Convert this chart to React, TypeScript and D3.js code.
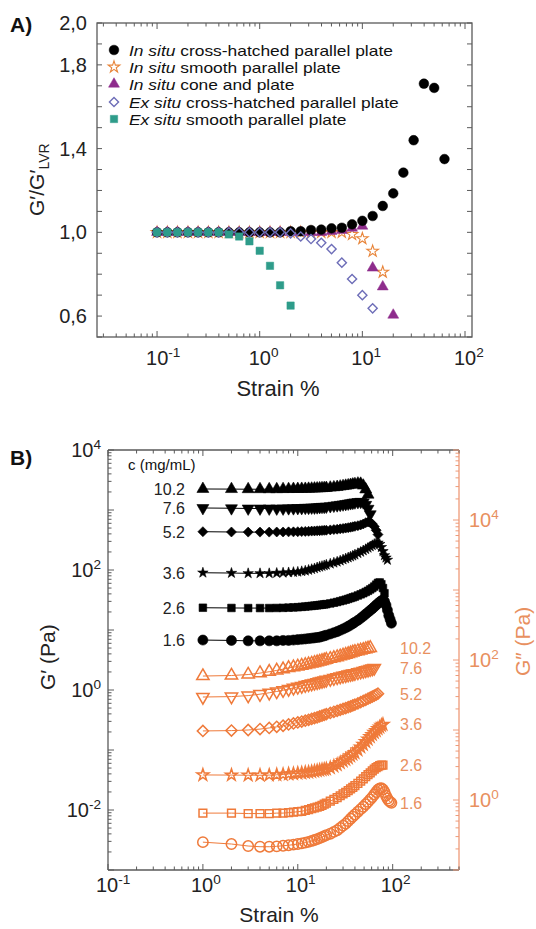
import React from 'react';
import * as d3 from 'd3';

const FONT = '"Liberation Sans", Arial, Helvetica, sans-serif';

// ---------------- Panel A data ----------------
const strainA = [0.1, 0.126, 0.158, 0.2, 0.251, 0.316, 0.398, 0.501, 0.631, 0.794, 1, 1.26, 1.58, 2, 2.51, 3.16, 3.98, 5.01, 6.31, 7.94, 10, 12.6, 15.8, 20, 25.1, 31.6, 39.8, 50.1, 63.1];
const inSituCrossHatched = [1.0, 1.0, 1.0, 1.0, 1.0, 1.0, 1.0, 1.0, 1.0, 1.0, 1.0, 1.0, 1.0, 1.005, 1.005, 1.011, 1.013, 1.019, 1.022, 1.038, 1.055, 1.078, 1.126, 1.186, 1.285, 1.44, 1.71, 1.69, 1.35];
const inSituSmooth = [1.0, 1.0, 1.0, 1.0, 1.0, 1.0, 1.0, 1.0, 1.0, 1.0, 1.0, 1.0, 1.0, 1.0, 1.0, 1.0, 1.0, 1.0, 1.0, 0.99, 0.97, 0.91, 0.81];
const inSituCone = [1.0, 1.0, 1.0, 1.0, 1.0, 1.0, 1.0, 1.0, 1.0, 1.0, 1.0, 1.0, 1.0, 1.0, 1.0, 1.0, 1.0, 1.005, 1.01, 1.02, 1.03, 0.83, 0.74, 0.605];
const exSituCrossHatched = [1.0, 1.0, 1.0, 1.0, 1.0, 1.0, 1.0, 1.0, 1.0, 1.0, 1.0, 1.0, 1.0, 0.995, 0.98, 0.968, 0.95, 0.92, 0.855, 0.777, 0.7, 0.637];
const exSituSmooth = [1.0, 1.0, 1.0, 1.0, 1.0, 1.0, 1.0, 0.99, 0.98, 0.957, 0.912, 0.84, 0.747, 0.65];
const yTickLabelsA = [0.6, 1.0, 1.4, 1.8, 2.0];
const xTickLabels = [0.1, 1, 10, 100];

// ---------------- Panel B data ----------------
const strainB = [1, 2, 3, 4, 5, 6, 7, 8, 9, 10, 11, 12, 13, 14, 15, 16, 17, 18, 19, 20, 22, 24, 26, 28, 30, 32, 34, 36, 38, 40, 43, 46, 49, 52, 55, 58, 61, 64, 67, 70, 73, 76, 79, 82, 85, 88, 91, 94, 97];
const concentrations = ['10.2', '7.6', '5.2', '3.6', '2.6', '1.6'];
// G' (Pa), filled black markers
const gp10_2 = [2240, 2230, 2220, 2220, 2220, 2220, 2230, 2230, 2240, 2240, 2250, 2250, 2260, 2270, 2280, 2290, 2300, 2310, 2320, 2330, 2360, 2390, 2420, 2460, 2500, 2540, 2580, 2620, 2660, 2700, 2760, 2740, 2550, 2200, 1800];
const gp7_6 = [1080, 1070, 1060, 1060, 1060, 1060, 1060, 1070, 1070, 1080, 1080, 1090, 1090, 1100, 1100, 1110, 1120, 1130, 1130, 1140, 1160, 1180, 1200, 1220, 1240, 1260, 1280, 1300, 1320, 1340, 1360, 1370, 1340, 1220, 1050, 850];
const gp5_2 = [435, 430, 428, 428, 428, 430, 430, 432, 432, 435, 437, 440, 442, 445, 447, 450, 452, 455, 458, 460, 466, 472, 478, 485, 492, 500, 508, 516, 525, 534, 548, 565, 585, 615, 632, 620, 585, 530, 460, 390];
const gp3_6 = [90, 89, 88, 88, 88, 89, 90, 91, 92, 93, 95, 97, 100, 103, 106, 110, 113, 116, 119, 122, 127, 132, 137, 143, 149, 155, 161, 167, 173, 180, 190, 200, 211, 222, 234, 246, 258, 270, 280, 284, 270, 240, 205, 175, 160, 147];
const gp2_6 = [23.5, 23.3, 23.2, 23.2, 23.2, 23.3, 23.4, 23.6, 23.8, 24, 24.3, 24.6, 24.9, 25.2, 25.5, 25.8, 26.1, 26.4, 26.7, 27, 27.7, 28.5, 29.3, 30.2, 31.1, 32, 33, 34, 35, 36, 37.6, 39.3, 41, 43, 45, 47.5, 50, 53, 57, 61, 62, 58, 50, 41];
const gp1_6 = [6.8, 6.7, 6.6, 6.6, 6.6, 6.6, 6.7, 6.7, 6.8, 6.9, 7.0, 7.1, 7.2, 7.3, 7.4, 7.5, 7.6, 7.8, 8.0, 8.2, 8.6, 9.0, 9.4, 9.9, 10.4, 10.9, 11.5, 12.1, 12.8, 13.5, 14.5, 15.7, 17, 18.4, 19.8, 21.2, 22.7, 24.3, 26, 27.7, 29.3, 30.8, 31.6, 30, 26, 21.5, 17.5, 15, 13];
// G'' (Pa), open orange markers
const gpp10_2 = [59, 60, 62, 65, 68, 71, 74, 77, 79, 81, 83, 85, 87, 89, 91, 93, 95, 97, 99, 101, 104, 107, 110, 113, 116, 119, 122, 125, 128, 131, 134, 137, 140, 143, 146, 149];
const gpp7_6 = [29.6, 30, 31, 32.5, 34, 35.5, 37, 38.5, 40, 41.3, 42.5, 43.7, 44.8, 45.9, 47, 48, 49, 50, 51, 52, 53.5, 55, 56.5, 58, 59.3, 60.5, 61.7, 62.8, 63.8, 64.8, 66.5, 68, 69.5, 71, 72.5, 74, 75.5, 77];
const gpp5_2 = [9.7, 9.8, 10, 10.3, 10.7, 11.1, 11.5, 12, 12.4, 12.8, 13.2, 13.6, 14, 14.4, 14.8, 15.2, 15.6, 16, 16.4, 16.8, 17.5, 18.2, 18.8, 19.4, 20, 20.6, 21.2, 21.8, 22.4, 23, 24, 25, 26, 27, 28, 29, 30, 31, 32, 33];
const gpp3_6 = [2.28, 2.27, 2.26, 2.26, 2.27, 2.29, 2.32, 2.35, 2.38, 2.41, 2.44, 2.47, 2.5, 2.54, 2.58, 2.62, 2.66, 2.7, 2.74, 2.78, 2.9, 3.05, 3.2, 3.4, 3.6, 3.8, 4.0, 4.25, 4.5, 4.75, 5.2, 5.7, 6.2, 6.8, 7.4, 8.0, 8.6, 9.2, 9.8, 10.4, 11, 11.6, 12];
const gpp2_6 = [0.65, 0.65, 0.64, 0.64, 0.64, 0.65, 0.65, 0.66, 0.67, 0.68, 0.69, 0.71, 0.73, 0.75, 0.77, 0.79, 0.81, 0.84, 0.87, 0.9, 0.96, 1.02, 1.08, 1.15, 1.22, 1.29, 1.36, 1.44, 1.52, 1.6, 1.73, 1.86, 2.0, 2.15, 2.3, 2.45, 2.6, 2.75, 2.9, 3.0, 3.1, 3.15, 3.15];
const gpp1_6 = [0.25, 0.235, 0.22, 0.215, 0.215, 0.218, 0.222, 0.226, 0.23, 0.235, 0.24, 0.246, 0.252, 0.26, 0.268, 0.276, 0.285, 0.295, 0.305, 0.315, 0.33, 0.35, 0.37, 0.4, 0.43, 0.46, 0.5, 0.54, 0.58, 0.62, 0.68, 0.74, 0.8, 0.87, 0.94, 1.02, 1.1, 1.2, 1.3, 1.4, 1.46, 1.48, 1.42, 1.3, 1.15, 1.05, 0.98, 0.94, 0.91];
const yTickLabelsBLeft = [1e4, 1e2, 1, 1e-2];
const yTickLabelsBRight = [1e4, 1e2, 1];

// ---------------- styling ----------------
const ORANGE = '#EF7A3A';
const ORANGE_TXT = '#E8905F';
const ORANGE_AX = '#EE9A78';
const AXIS = '#5a5a5a';
const C_BLACK = '#000';
const C_STAR = '#E8853A';
const C_TRI = '#8E2C8C';
const C_DIA = '#6E6EB8';
const C_SQ = '#2E9C8A';

type Shape = 'circle' | 'triUp' | 'triDown' | 'diamond' | 'star' | 'square';

function symPath(shape: Shape, size: number): string {
  const g = d3.symbol();
  switch (shape) {
    case 'circle': return g.type(d3.symbolCircle).size(size)() as string;
    case 'triUp':
    case 'triDown': return g.type(d3.symbolTriangle).size(size)() as string;
    case 'diamond': return g.type(d3.symbolSquare).size(size)() as string;
    case 'star': return g.type(d3.symbolStar).size(size)() as string;
    case 'square': return g.type(d3.symbolSquare).size(size)() as string;
  }
}
function symRot(shape: Shape): number {
  if (shape === 'triDown') return 180;
  if (shape === 'diamond') return 45;
  return 0;
}

function logTicks(lo: number, hi: number) {
  const out: { v: number; major: boolean }[] = [];
  for (let e = Math.floor(Math.log10(lo)) - 1; e <= Math.ceil(Math.log10(hi)); e++) {
    for (let m = 1; m <= 9; m++) {
      const v = m * Math.pow(10, e);
      if (v >= lo * 0.999 && v <= hi * 1.001) out.push({ v, major: m === 1 });
    }
  }
  return out;
}

const Pow = ({ x, y, exp, anchor = 'start', fill = '#222', size = 19 }: any) => (
  <text x={x} y={y} textAnchor={anchor} fontSize={size} fill={fill} fontFamily={FONT}>
    <tspan>10</tspan>
    <tspan dy={-size * 0.42} fontSize={size * 0.68}>{exp}</tspan>
  </text>
);

function PanelA() {
  const L = 97, R = 472, T = 23, B = 337;
  const x = d3.scaleLog().domain([0.026, 117]).range([L, R]);
  const y = d3.scaleLinear().domain([0.5, 2.0]).range([B, T]);
  const xt = logTicks(0.026, 117);
  const yt = d3.range(5, 21).map((d) => d / 10);

  const sty = {
    circle: { shape: 'circle' as Shape, fill: C_BLACK, stroke: C_BLACK, size: 74, sw: 0.5 },
    star: { shape: 'star' as Shape, fill: '#fff', stroke: C_STAR, size: 42, sw: 1.1 },
    tri: { shape: 'triUp' as Shape, fill: C_TRI, stroke: C_TRI, size: 52, sw: 0.5 },
    dia: { shape: 'diamond' as Shape, fill: 'none', stroke: C_DIA, size: 42, sw: 1.4 },
    sq: { shape: 'square' as Shape, fill: C_SQ, stroke: C_SQ, size: 54, sw: 0.5 },
  };
  // drawing order (bottom to top)
  const series = [
    { vals: inSituSmooth, ...sty.star },
    { vals: inSituCone, ...sty.tri },
    { vals: inSituCrossHatched, ...sty.circle },
    { vals: exSituCrossHatched, ...sty.dia },
    { vals: exSituSmooth, ...sty.sq },
  ];
  const legend = [
    { ...sty.circle, it: 'In situ', rest: ' cross-hatched parallel plate' },
    { ...sty.star, it: 'In situ', rest: ' smooth parallel plate' },
    { ...sty.tri, it: 'In situ', rest: ' cone and plate' },
    { ...sty.dia, it: 'Ex situ', rest: ' cross-hatched parallel plate' },
    { ...sty.sq, it: 'Ex situ', rest: ' smooth parallel plate' },
  ];
  const legendY = [50, 67, 84, 102, 119];

  return (
    <g>
      <text x={10} y={32} fontSize={21} fontWeight="bold" fontFamily={FONT} fill="#111">A)</text>
      <rect x={L} y={T} width={R - L} height={B - T} fill="none" stroke={AXIS} strokeWidth={1.3} />
      {xt.map((t, i) => (
        <g key={'xt' + i} stroke={AXIS} strokeWidth={1}>
          <line x1={x(t.v)} x2={x(t.v)} y1={B} y2={B - (t.major ? 6 : 3.5)} />
          <line x1={x(t.v)} x2={x(t.v)} y1={T} y2={T + (t.major ? 6 : 3.5)} />
        </g>
      ))}
      {yt.map((v, i) => (
        <g key={'yt' + i} stroke={AXIS} strokeWidth={1}>
          <line x1={L} x2={L + 5} y1={y(v)} y2={y(v)} />
          <line x1={R} x2={R - 5} y1={y(v)} y2={y(v)} />
        </g>
      ))}
      {yTickLabelsA.map((v) => (
        <text key={'yl' + v} x={87} y={y(v) + 7} textAnchor="end" fontSize={20} fontFamily={FONT} fill="#222">
          {v.toFixed(1).replace('.', ',')}
        </text>
      ))}
      {xTickLabels.map((v) => (
        <Pow key={'xl' + v} x={x(v) - 11} y={365} exp={String(Math.round(Math.log10(v)))} size={20} />
      ))}
      <text x={278} y={396} textAnchor="middle" fontSize={22} fontFamily={FONT} fill="#222">Strain %</text>
      <text transform={`translate(44,216) rotate(-90)`} fontSize={21} fontFamily={FONT} fill="#222">
        <tspan>G′/G′</tspan>
        <tspan dy={5} fontSize={14}>LVR</tspan>
      </text>
      {series.map((s, si) => (
        <g key={'s' + si}>
          {s.vals.map((v, i) => (
            <path key={i} d={symPath(s.shape, s.size)}
              transform={`translate(${x(strainA[i])},${y(v)}) rotate(${symRot(s.shape)})`}
              fill={s.fill} stroke={s.stroke} strokeWidth={s.sw} />
          ))}
        </g>
      ))}
      {legend.map((l, i) => (
        <g key={'lg' + i}>
          <path d={symPath(l.shape, l.size)} transform={`translate(114,${legendY[i]}) rotate(${symRot(l.shape)})`}
            fill={l.fill} stroke={l.stroke} strokeWidth={l.sw} />
          <g transform={`translate(129,${legendY[i] + 5.5}) scale(1.16,1)`}>
            <text x={0} y={0} fontSize={15} fontFamily={FONT} fill="#111">
              <tspan fontStyle="italic">{l.it}</tspan>
              <tspan>{l.rest}</tspan>
            </text>
          </g>
        </g>
      ))}
    </g>
  );
}

function PanelB() {
  const L = 108, R = 459, T = 450, B = 870;
  const x = d3.scaleLog().domain([0.1, 500]).range([L, R]);
  const yl = d3.scaleLog().domain([1e-3, 1e4]).range([B, T]);
  const yr = d3.scaleLog().domain([0.1, 1e5]).range([B, T]);
  const xt = logTicks(0.1, 500);
  const ylt = logTicks(1e-3, 1e4);
  const yrt = logTicks(0.1, 1e5);

  const black = [
    { vals: gp10_2, shape: 'triUp' as Shape, size: 62 },
    { vals: gp7_6, shape: 'triDown' as Shape, size: 62 },
    { vals: gp5_2, shape: 'diamond' as Shape, size: 50 },
    { vals: gp3_6, shape: 'star' as Shape, size: 34 },
    { vals: gp2_6, shape: 'square' as Shape, size: 58 },
    { vals: gp1_6, shape: 'circle' as Shape, size: 80 },
  ];
  const orange = [
    { vals: gpp10_2, shape: 'triUp' as Shape, size: 66 },
    { vals: gpp7_6, shape: 'triDown' as Shape, size: 66 },
    { vals: gpp5_2, shape: 'diamond' as Shape, size: 62 },
    { vals: gpp3_6, shape: 'star' as Shape, size: 44 },
    { vals: gpp2_6, shape: 'square' as Shape, size: 60 },
    { vals: gpp1_6, shape: 'circle' as Shape, size: 84 },
  ];
  const lineL = d3.line<number>().x((_, i) => x(strainB[i])).y((v) => yl(v));
  const lineR = d3.line<number>().x((_, i) => x(strainB[i])).y((v) => yr(v));

  return (
    <g>
      <text x={10} y={465} fontSize={21} fontWeight="bold" fontFamily={FONT} fill="#111">B)</text>
      <line x1={L} x2={R} y1={T} y2={T} stroke={AXIS} strokeWidth={1.3} />
      <line x1={L} x2={R} y1={B} y2={B} stroke={AXIS} strokeWidth={1.3} />
      <line x1={L} x2={L} y1={T} y2={B} stroke={AXIS} strokeWidth={1.3} />
      <line x1={R} x2={R} y1={T} y2={B} stroke={ORANGE_AX} strokeWidth={1.3} />
      {xt.map((t, i) => (
        <g key={'xt' + i} stroke={AXIS} strokeWidth={1}>
          <line x1={x(t.v)} x2={x(t.v)} y1={B} y2={B - (t.major ? 6 : 3.5)} />
          <line x1={x(t.v)} x2={x(t.v)} y1={T} y2={T + (t.major ? 6 : 3.5)} />
        </g>
      ))}
      {ylt.map((t, i) => (
        <line key={'yl' + i} x1={L} x2={L + (t.major ? 6 : 3.5)} y1={yl(t.v)} y2={yl(t.v)} stroke={AXIS} strokeWidth={1} />
      ))}
      {yrt.map((t, i) => (
        <line key={'yr' + i} x1={R} x2={R - (t.major ? 6 : 3.5)} y1={yr(t.v)} y2={yr(t.v)} stroke={ORANGE_AX} strokeWidth={1} />
      ))}
      {yTickLabelsBLeft.map((v) => (
        <Pow key={'yll' + v} x={101} y={yl(v) + 7} anchor="end" exp={String(Math.round(Math.log10(v)))} size={20} />
      ))}
      {yTickLabelsBRight.map((v) => (
        <Pow key={'yrl' + v} x={469} y={yr(v) + 7} exp={String(Math.round(Math.log10(v)))} size={20} fill={ORANGE_TXT} />
      ))}
      {xTickLabels.map((v) => (
        <Pow key={'xl' + v} x={x(v) - 12} y={892} exp={String(Math.round(Math.log10(v)))} size={20} />
      ))}
      <text x={279} y={922} textAnchor="middle" fontSize={21} fontFamily={FONT} fill="#222">Strain %</text>
      <text transform={`translate(55,690) rotate(-90)`} fontSize={21} fontFamily={FONT} fill="#222">G′ (Pa)</text>
      <text transform={`translate(530,676) rotate(-90)`} fontSize={21} fontFamily={FONT} fill={ORANGE_TXT}>G″ (Pa)</text>
      <text x={128} y={470} fontSize={15} fontFamily={FONT} fill="#111">c (mg/mL)</text>
      {black.map((s, si) => (
        <g key={'b' + si}>
          <path d={lineL(s.vals) as string} fill="none" stroke="#000" strokeWidth={1} />
          {s.vals.map((v, i) => (
            <path key={i} d={symPath(s.shape, s.size)}
              transform={`translate(${x(strainB[i])},${yl(v)}) rotate(${symRot(s.shape)})`}
              fill="#000" stroke="#000" strokeWidth={0.6} />
          ))}
          <text x={185} y={yl(s.vals[0]) + 6} textAnchor="end" fontSize={16} fontFamily={FONT} fill="#222">{concentrations[si]}</text>
        </g>
      ))}
      {orange.map((s, si) => (
        <g key={'o' + si}>
          <path d={lineR(s.vals) as string} fill="none" stroke={ORANGE} strokeWidth={1} />
          {s.vals.map((v, i) => (
            <path key={i} d={symPath(s.shape, s.size)}
              transform={`translate(${x(strainB[i])},${yr(v)}) rotate(${symRot(s.shape)})`}
              fill="none" stroke={ORANGE} strokeWidth={1.5} />
          ))}
          <text x={400} y={yr(s.vals[s.vals.length - 1]) + 6} fontSize={16} fontFamily={FONT} fill={ORANGE_TXT}>{concentrations[si]}</text>
        </g>
      ))}
    </g>
  );
}

export default function App() {
  return (
    <svg width={536} height={929} viewBox="0 0 536 929"
      style={{ position: 'absolute', left: 0, top: 0, background: '#fff' }}>
      <rect x={0} y={0} width={536} height={929} fill="#fff" />
      <PanelA />
      <PanelB />
    </svg>
  );
}
